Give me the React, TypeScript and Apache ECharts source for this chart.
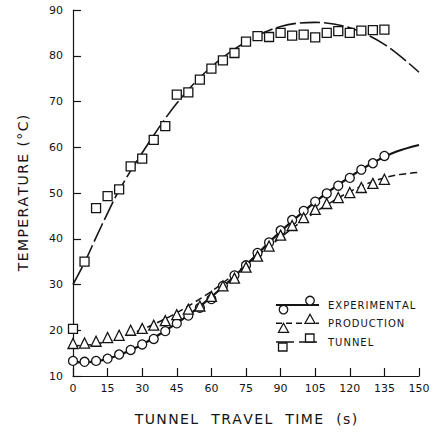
import React, { useEffect, useRef } from "react";
import * as echarts from "echarts";

// Measured points (s, °C)
const times = [0, 5, 10, 15, 20, 25, 30, 35, 40, 45, 50, 55, 60, 65, 70, 75, 80, 85, 90, 95, 100, 105, 110, 115, 120, 125, 130, 135];
const tunnelPts = [20.3, 35.0, 46.7, 49.3, 50.8, 55.8, 57.5, 61.6, 64.6, 71.5, 72.0, 74.8, 77.2, 79.0, 80.6, 83.1, 84.3, 84.1, 85.0, 84.4, 84.6, 84.0, 85.0, 85.4, 85.0, 85.5, 85.6, 85.7];
const experimentalPts = [13.3, 13.1, 13.3, 13.8, 14.7, 15.7, 16.9, 18.1, 19.8, 21.5, 23.2, 24.9, 26.8, 29.7, 32.0, 34.2, 36.9, 39.2, 41.8, 44.1, 46.1, 48.1, 49.9, 51.6, 53.3, 55.1, 56.5, 58.1];
const productionPts = [17.1, 17.2, 17.6, 18.4, 18.9, 20.0, 20.4, 21.1, 22.1, 23.4, 24.6, 25.3, 27.4, 29.7, 31.4, 33.8, 36.2, 38.4, 40.8, 42.9, 44.6, 46.4, 47.7, 49.0, 50.1, 51.2, 52.1, 53.0];

// Fitted curves
const tunnelFitT = [0, 5, 10, 15, 20, 30, 45, 60, 75, 90, 105, 120, 135, 150];
const tunnelFitV = [30.0, 34.8, 40.3, 45.6, 50.6, 58.8, 69.6, 77.6, 83.0, 86.4, 87.3, 86.1, 82.5, 76.4];
const fitT = [0, 10, 20, 30, 40, 50, 60, 70, 80, 90, 100, 110, 120, 130, 140, 150];
const experimentalFitV = [13.0, 13.2, 14.6, 16.9, 19.9, 23.3, 27.3, 31.8, 36.7, 41.6, 46.0, 50.0, 53.5, 56.6, 59.0, 60.5];
const productionFitV = [16.6, 17.0, 18.3, 20.2, 22.5, 25.3, 28.5, 32.3, 36.3, 40.3, 44.1, 47.4, 50.3, 52.5, 53.9, 54.5];

const legendNames = ["EXPERIMENTAL", "PRODUCTION", "TUNNEL"];
const xTitle = "TUNNEL  TRAVEL  TIME  (s)";
const yTitle = "TEMPERATURE (°C)";

const INK = "#141414";
const FONT = "DejaVu Sans";
const spaced = (s: string) => Array.from(s).join("\u200A");

export default function App() {
  const ref = useRef<HTMLDivElement>(null);
  useEffect(() => {
    if (!ref.current) return;
    const chart = echarts.init(ref.current, null, { renderer: "svg" });
    const zip = (xs: number[], ys: number[]) => xs.map((x, i) => [x, ys[i]]);
    const marker = (symbol: string, size: number, data: number[][]) => ({
      type: "scatter",
      symbol,
      symbolSize: size,
      data,
      itemStyle: { color: "#fff", borderColor: INK, borderWidth: 1.3, opacity: 1 },
      z: 5,
      silent: true,
    });
    const fit = (data: number[][], width: number, dash: any) => ({
      type: "line",
      data,
      smooth: 0.35,
      showSymbol: false,
      symbol: "none",
      lineStyle: { color: INK, width, type: dash },
      z: 3,
      silent: true,
    });
    const legendY = [305, 323.3, 342];
    const legendGraphics: any[] = [];
    // experimental
    legendGraphics.push({ type: "line", shape: { x1: 276, y1: legendY[0], x2: 319, y2: legendY[0] }, style: { stroke: INK, lineWidth: 2.2 } });
    legendGraphics.push({ type: "circle", shape: { cx: 310, cy: legendY[0] - 4.4, r: 4.3 }, style: { fill: "#fff", stroke: INK, lineWidth: 1.3 } });
    legendGraphics.push({ type: "circle", shape: { cx: 283.5, cy: legendY[0] + 4.6, r: 4.3 }, style: { fill: "#fff", stroke: INK, lineWidth: 1.3 } });
    // production
    legendGraphics.push({ type: "line", shape: { x1: 276, y1: legendY[1], x2: 319, y2: legendY[1] }, style: { stroke: INK, lineWidth: 1.5, lineDash: [6, 4] } });
    legendGraphics.push({ type: "polygon", shape: { points: [[310, legendY[1] - 9], [305, legendY[1]], [315, legendY[1]]] }, style: { fill: "#fff", stroke: INK, lineWidth: 1.3 } });
    legendGraphics.push({ type: "polygon", shape: { points: [[283.5, legendY[1]], [278.5, legendY[1] + 9], [288.5, legendY[1] + 9]] }, style: { fill: "#fff", stroke: INK, lineWidth: 1.3 } });
    // tunnel
    legendGraphics.push({ type: "line", shape: { x1: 276, y1: legendY[2], x2: 319, y2: legendY[2] }, style: { stroke: INK, lineWidth: 1.6, lineDash: [18, 5] } });
    legendGraphics.push({ type: "rect", shape: { x: 305.5, y: legendY[2] - 8, width: 8.5, height: 8 }, style: { fill: "#fff", stroke: INK, lineWidth: 1.3 } });
    legendGraphics.push({ type: "rect", shape: { x: 278.5, y: legendY[2] + 1, width: 8.5, height: 8 }, style: { fill: "#fff", stroke: INK, lineWidth: 1.3 } });
    legendNames.forEach((n, i) => {
      legendGraphics.push({
        type: "text",
        x: 328,
        y: legendY[i],
        style: { text: spaced(n), fill: INK, font: `10px ${FONT}`, verticalAlign: "middle", align: "left" },
      });
    });

    const axisCommon = {
      type: "value",
      axisLine: { show: true, lineStyle: { color: INK, width: 1.2 } },
      axisTick: { show: true, inside: true, length: 8, lineStyle: { color: INK, width: 1.2 } },
      splitLine: { show: false },
      nameTextStyle: { color: INK, fontSize: 14, fontFamily: FONT },
    };

    chart.setOption({
      animation: false,
      backgroundColor: "#fff",
      grid: { left: 73, right: 14, top: 10, bottom: 58, containLabel: false },
      xAxis: {
        ...axisCommon,
        min: 0,
        max: 150,
        interval: 15,
        name: spaced(xTitle),
        nameLocation: "middle",
        nameGap: 36,
        axisLabel: { color: INK, fontSize: 11, fontFamily: FONT, margin: 7 },
      },
      yAxis: {
        ...axisCommon,
        min: 10,
        max: 90,
        interval: 10,
        name: spaced(yTitle),
        nameLocation: "middle",
        nameGap: 43,
        nameRotate: 90,
        axisLabel: { color: INK, fontSize: 11, fontFamily: FONT, margin: 10 },
      },
      series: [
        fit(zip(tunnelFitT, tunnelFitV), 1.6, [20, 4]),
        fit(zip(fitT, experimentalFitV), 2.2, "solid"),
        fit(zip(fitT, productionFitV), 1.5, [7, 4]),
        marker("rect", 9, zip(times, tunnelPts)),
        marker("circle", 9, zip(times, experimentalPts)),
        marker("triangle", 10, zip(times, productionPts)),
      ],
      graphic: legendGraphics,
    });
    return () => chart.dispose();
  }, []);
  return <div ref={ref} style={{ position: "fixed", left: 0, top: 0, width: 433, height: 434 }} />;
}
